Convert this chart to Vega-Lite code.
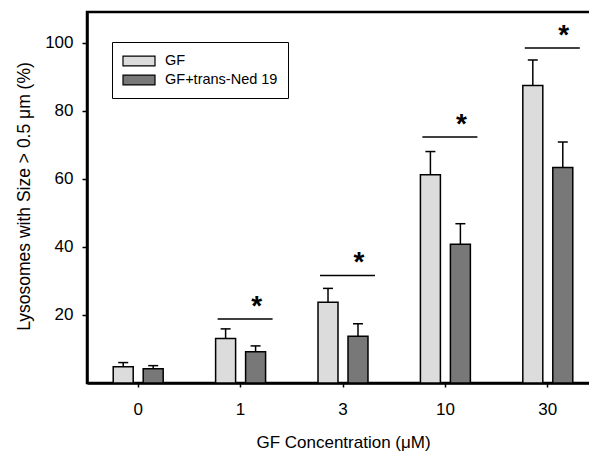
{
  "$schema": "https://vega.github.io/schema/vega-lite/v6.json",
  "width": 512,
  "height": 371,
  "autosize": {"type": "none"},
  "padding": {"left": 87, "top": 12, "right": 0, "bottom": 69},
  "background": "white",
  "config": {
    "font": "Liberation Sans",
    "view": {"stroke": "black", "strokeWidth": 2.5},
    "axis": {
      "domainColor": "black", "domainWidth": 2.5,
      "tickColor": "black", "tickWidth": 1.5,
      "labelColor": "black", "titleColor": "black",
      "labelFontSize": 17, "titleFontSize": 17, "titleFontWeight": "normal",
      "labelFont": "Liberation Sans", "titleFont": "Liberation Sans",
      "grid": false
    }
  },
  "resolve": {"axis": {"x": "independent"}},
  "datasets": {
    "bars": [
      {"conc": 0, "group": "GF", "mean": 4.8, "upper": 6.0},
      {"conc": 0, "group": "GF+trans-Ned 19", "mean": 4.2, "upper": 5.1},
      {"conc": 1, "group": "GF", "mean": 13.1, "upper": 15.9},
      {"conc": 1, "group": "GF+trans-Ned 19", "mean": 9.2, "upper": 10.9},
      {"conc": 3, "group": "GF", "mean": 23.7, "upper": 27.8},
      {"conc": 3, "group": "GF+trans-Ned 19", "mean": 13.7, "upper": 17.4},
      {"conc": 10, "group": "GF", "mean": 61.2, "upper": 68.0},
      {"conc": 10, "group": "GF+trans-Ned 19", "mean": 40.8, "upper": 46.8},
      {"conc": 30, "group": "GF", "mean": 87.4, "upper": 94.9},
      {"conc": 30, "group": "GF+trans-Ned 19", "mean": 63.3, "upper": 70.8}
    ],
    "sig": [
      {"conc": 1, "level": 18.8},
      {"conc": 3, "level": 31.6},
      {"conc": 10, "level": 72.3},
      {"conc": 30, "level": 98.4}
    ]
  },
  "layer": [
    {
      "data": {"name": "bars"},
      "mark": {"type": "rule", "strokeWidth": 1.5, "color": "black"},
      "encoding": {
        "x": {"field": "conc", "type": "ordinal", "scale": {"paddingInner": 0.512, "paddingOuter": 0.256}, "axis": null},
        "xOffset": {"field": "group", "type": "nominal", "scale": {"paddingInner": 0.3333, "paddingOuter": 0}},
        "y": {"field": "mean", "type": "quantitative", "title": "Lysosomes with Size > 0.5 μm (%)"},
        "y2": {"field": "upper"}
      }
    },
    {
      "data": {"name": "bars"},
      "mark": {"type": "tick", "size": 10, "thickness": 1.5, "color": "black", "opacity": 1},
      "encoding": {
        "x": {"field": "conc", "type": "ordinal", "axis": null},
        "xOffset": {"field": "group", "type": "nominal"},
        "y": {"field": "upper", "type": "quantitative", "title": "Lysosomes with Size > 0.5 μm (%)"}
      }
    },
    {
      "data": {"name": "bars"},
      "mark": {"type": "bar", "stroke": "black", "strokeWidth": 1.5, "opacity": 1},
      "encoding": {
        "x": {
          "field": "conc", "type": "ordinal",
          "title": "GF Concentration (μM)",
          "axis": {"labelAngle": 0, "tickSize": 4, "labelPadding": 14, "titleY": 59, "titleBaseline": "middle"}
        },
        "xOffset": {"field": "group", "type": "nominal"},
        "y": {
          "field": "mean", "type": "quantitative",
          "title": "Lysosomes with Size > 0.5 μm (%)",
          "scale": {"domain": [0, 109], "nice": false},
          "axis": {"values": [20, 40, 60, 80, 100], "tickSize": 5, "labelPadding": 9, "titleX": -63, "titleY": 184, "titleBaseline": "middle", "titleFontSize": 17.5}
        },
        "color": {
          "field": "group", "type": "nominal",
          "scale": {"domain": ["GF", "GF+trans-Ned 19"], "range": ["#dcdcdc", "#787878"]},
          "legend": {
            "title": null,
            "orient": "none",
            "legendX": 25,
            "legendY": 30,
            "symbolType": "M-1,-0.62H3V0.62H-1Z",
            "symbolSize": 256,
            "symbolStrokeColor": "black",
            "symbolStrokeWidth": 1.2,
            "symbolOpacity": 1,
            "labelFontSize": 14.5,
            "labelColor": "black",
            "labelOffset": 25,
            "labelExpr": "datum.label + '\u00a0\u00a0'",
            "padding": 10,
            "rowPadding": 2,
            "strokeColor": "black",
            "fillColor": "white"
          }
        }
      }
    },
    {
      "data": {"name": "sig"},
      "mark": {"type": "tick", "size": 55, "thickness": 1.5, "color": "black", "opacity": 1, "xOffset": 4.5},
      "encoding": {
        "x": {"field": "conc", "type": "ordinal", "axis": null},
        "y": {"field": "level", "type": "quantitative", "title": "Lysosomes with Size > 0.5 μm (%)"}
      }
    },
    {
      "data": {"name": "sig"},
      "mark": {"type": "text", "text": "*", "fontSize": 28, "fontWeight": "bold", "dx": 16, "dy": -4, "baseline": "alphabetic", "color": "black"},
      "encoding": {
        "x": {"field": "conc", "type": "ordinal", "axis": null},
        "y": {"field": "level", "type": "quantitative", "title": "Lysosomes with Size > 0.5 μm (%)"}
      }
    }
  ]
}
